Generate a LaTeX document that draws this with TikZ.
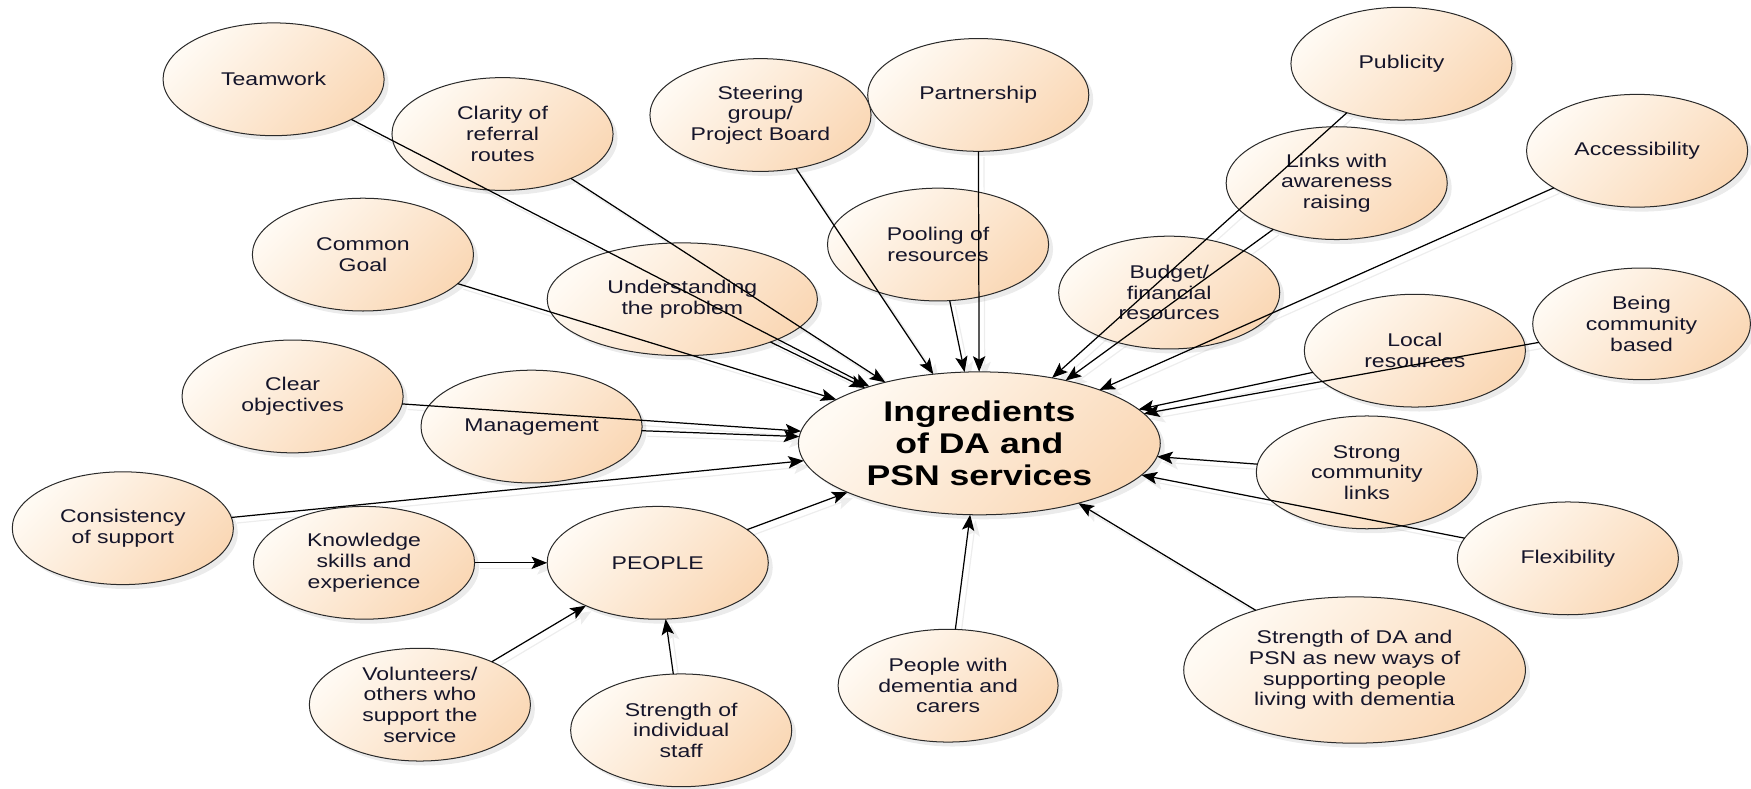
\documentclass[tikz,border=0pt]{standalone}
\usepackage{fontspec}
\setmainfont[FakeStretch=1.25]{Liberation Sans}
\usetikzlibrary{shapes.geometric,shadows,arrows.meta}
\definecolor{peachlight}{HTML}{FFFAF3}
\definecolor{peachdark}{HTML}{FAD8B6}
\definecolor{edgegray}{HTML}{2A2A2A}
\definecolor{textcol}{HTML}{15152A}
\pgfdeclarelayer{bg}
\pgfsetlayers{bg,main}
\newcommand\linkto[2]{%
  \begin{pgfonlayer}{bg}\draw[connshade,transform canvas={xshift=5pt,yshift=-5pt}] (#1) -- (#2);\end{pgfonlayer}%
  \draw[conn] (#1) -- (#2);}
\begin{document}
\begin{tikzpicture}[x=1pt,y=-1pt,
  bubble/.style={ellipse, draw=edgegray, line width=0.9pt,
    top color=peachlight, bottom color=peachdark, shading angle=45,
    drop shadow={shadow xshift=4pt, shadow yshift=-4pt, opacity=0.16},
    inner sep=0pt, outer sep=0pt, align=center, text=textcol,
    minimum width=198pt, minimum height=101pt,
    font=\fontsize{16.5}{18.5}\selectfont},
  hub/.style={bubble, minimum width=324pt, minimum height=128pt,
    font=\bfseries\fontsize{25.5}{28.5}\selectfont, text=black},
  conn/.style={draw=black, line width=1.1pt, -{Stealth[length=14pt,width=11pt,inset=3pt]}},
  connshade/.style={draw=black!7, line width=1.1pt, -{Stealth[length=14pt,width=11pt,inset=3pt]}}
]
\useasboundingbox (0,0) rectangle (1568,706);

% nodes
\node[bubble] (T)    at (245,71)  {Teamwork};
\node[bubble] (C)    at (450,120) {Clarity of\\referral\\routes};
\node[bubble] (S)    at (681,103) {Steering\\group/\\Project Board};
\node[bubble] (P)    at (876,85)  {Partnership};
\node[bubble] (Pub)  at (1255,57) {Publicity};
\node[bubble] (L)    at (1197,164) {Links with\\awareness\\raising};
\node[bubble] (A)    at (1466,135) {Accessibility};
\node[bubble] (Pool) at (840,219) {Pooling of\\resources};
\node[bubble] (B)    at (1047,262) {Budget/\\financial\\resources};
\node[bubble] (G)    at (325,228) {Common\\Goal};
\node[bubble, minimum width=242pt] (U) at (611,268) {Understanding\\the problem};
\node[bubble] (LR)   at (1267,314) {Local\\resources};
\node[bubble, minimum width=195pt, minimum height=100pt] (Bc) at (1470,290) {Being\\community\\based};
\node[bubble] (CO)   at (262,355) {Clear\\objectives};
\node[bubble] (M)    at (476,382) {Management};
\node[hub]    (main) at (877,397) {Ingredients\\of DA and\\PSN services};
\node[bubble] (Cons) at (110,473) {Consistency\\of support};
\node[bubble] (K)    at (326,504) {Knowledge\\skills and\\experience};
\node[bubble] (PE)   at (589,504) {PEOPLE};
\node[bubble] (SC)   at (1224,423) {Strong\\community\\links};
\node[bubble] (F)    at (1404,500) {Flexibility};
\node[bubble, inner ysep=-4pt] (V) at (376,631) {Volunteers/\\others who\\support the\\service};
\node[bubble] (SS)   at (610,654) {Strength of\\individual\\staff};
\node[bubble, minimum width=197pt] (PD) at (849,614) {People with\\dementia and\\carers};
\node[bubble, minimum width=306pt, minimum height=131pt] (SD) at (1213,600) {Strength of DA and\\PSN as new ways of\\supporting people\\living with dementia};

% connectors
\linkto{T}{main}
\linkto{C}{main}
\linkto{U}{main}
\linkto{S}{main}
\linkto{Pool}{main}
\linkto{P}{main}
\linkto{Pub}{main}
\linkto{L}{main}
\linkto{A}{main}
\linkto{G}{main}
\linkto{CO}{main}
\linkto{M}{main}
\linkto{Cons}{main}
\linkto{PE}{main}
\linkto{K}{PE}
\linkto{V}{PE}
\linkto{SS}{PE}
\linkto{PD}{main}
\linkto{SD}{main}
\linkto{F}{main}
\linkto{SC}{main}
\linkto{LR}{main}
\linkto{Bc}{main}
\end{tikzpicture}
\end{document}
